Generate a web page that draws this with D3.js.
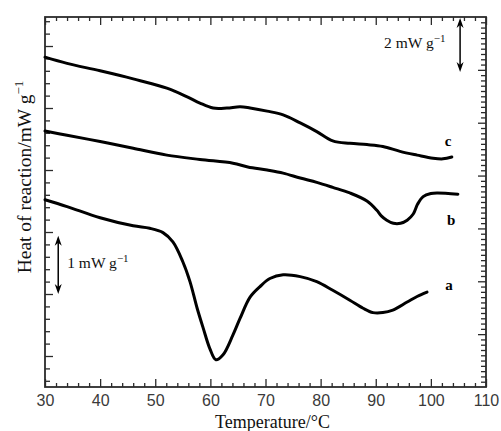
<!DOCTYPE html>
<html><head><meta charset="utf-8">
<script src="https://cdn.jsdelivr.net/npm/d3@7"></script>
<style>
body{margin:0;background:#fff;}
svg{display:block;}
</style></head>
<body>
<svg id="chart" width="501" height="431"></svg>
<script>
// Temperature (°C) and heat of reaction (arbitrary offset, mW/g units of the left axis)
const tempC = [30,34,40,46,52.1,55.8,58.1,60.5,63,65.4,67.2,70.3,73.2,76.3,79.3,82.2,85.3,88.4,91.3,94.4,97.5,100.4,102.2,103.8];
const heatC = [5.32,5.22,5.10,4.97,4.82,4.68,4.58,4.50,4.50,4.52,4.50,4.45,4.39,4.26,4.12,3.97,3.93,3.91,3.88,3.80,3.74,3.69,3.68,3.71];

const tempB = [30,34,40,46,52.1,58.1,64.1,66.8,70.3,73.2,76.3,79.3,82.2,85.3,88.4,90.2,91,92,93.2,94.5,95.7,96.8,97.6,98.6,100,101.1,104.9];
const heatB = [4.13,4.06,3.96,3.85,3.74,3.67,3.61,3.55,3.50,3.45,3.37,3.30,3.22,3.13,3.00,2.85,2.76,2.69,2.64,2.64,2.69,2.79,2.95,3.07,3.12,3.13,3.11];

const tempA = [30,34,40,46,49,51.4,53.2,55,56.3,57.6,58.7,59.9,61,62.3,64.1,65.4,67.2,69,70.8,73.2,76.3,79.3,82.2,85.3,87.7,89.5,91.3,93.1,95.7,97.5,99.3];
const heatA = [3.02,2.91,2.73,2.60,2.56,2.49,2.34,2.02,1.70,1.27,0.95,0.62,0.44,0.52,0.84,1.11,1.45,1.62,1.75,1.81,1.78,1.70,1.56,1.40,1.27,1.20,1.20,1.24,1.37,1.46,1.53];

const xMajorTicks = [30,40,50,60,70,80,90,100,110];
const curveLabels = ["a","b","c"];

const W = 501, H = 431;
const m = {left:45, right:15, top:17, bottom:44};
const x0 = m.left, x1 = W - m.right, y0 = m.top, y1 = H - m.bottom;

const svg = d3.select("#chart");
const x = d3.scaleLinear().domain([30,110]).range([x0,x1]);
const y = d3.scaleLinear().domain([0,5.968]).range([y1,y0]);
const yR = d3.scaleLinear().domain([0,7]).range([y1,y0]);

const axisColor = "#2b2b2b";
const xMinor = d3.range(32,110,2).filter(v => v%10!==0);

function styleAxis(g){
  g.select(".domain").remove();
  g.selectAll(".tick line").attr("stroke",axisColor).attr("stroke-width",1.3);
}

// bottom axis
svg.append("g").attr("transform",`translate(0,${y1})`)
  .call(d3.axisBottom(x).tickValues(xMinor).tickSizeInner(-4).tickSizeOuter(0).tickFormat(""))
  .call(styleAxis);
svg.append("g").attr("transform",`translate(0,${y1})`)
  .call(d3.axisBottom(x).tickValues(xMajorTicks).tickSizeInner(-8).tickSizeOuter(0).tickPadding(8).tickFormat(d3.format("d")))
  .call(styleAxis)
  .call(g=>g.selectAll("text").attr("font-family","Liberation Sans, Arial, sans-serif").attr("font-size",16).attr("fill","#3a3a3a"));
// top axis
svg.append("g").attr("transform",`translate(0,${y0})`)
  .call(d3.axisTop(x).tickValues(xMinor).tickSizeInner(-4).tickSizeOuter(0).tickFormat(""))
  .call(styleAxis);
svg.append("g").attr("transform",`translate(0,${y0})`)
  .call(d3.axisTop(x).tickValues(xMajorTicks).tickSizeInner(-8).tickSizeOuter(0).tickFormat(""))
  .call(styleAxis);
// left axis
const yMinor = d3.range(0.1,5.95,0.2).map(v=>+v.toFixed(2)).filter(v=>Math.abs((v-0.5)%1)>1e-6);
const yMajor = [0.5,1.5,2.5,3.5,4.5,5.5];
svg.append("g").attr("transform",`translate(${x0},0)`)
  .call(d3.axisLeft(y).tickValues(yMinor).tickSizeInner(-5).tickSizeOuter(0).tickFormat(""))
  .call(styleAxis);
svg.append("g").attr("transform",`translate(${x0},0)`)
  .call(d3.axisLeft(y).tickValues(yMajor).tickSizeInner(-8).tickSizeOuter(0).tickFormat(""))
  .call(styleAxis);
// right axis
const yRMinor = d3.range(0.1,7,0.1).map(v=>+v.toFixed(2)).filter(v=>Math.abs(v-Math.round(v))>1e-6);
const yRMajor = [1,2,3,4,5,6];
svg.append("g").attr("transform",`translate(${x1},0)`)
  .call(d3.axisRight(yR).tickValues(yRMinor).tickSizeInner(-5).tickSizeOuter(0).tickFormat(""))
  .call(styleAxis);
svg.append("g").attr("transform",`translate(${x1},0)`)
  .call(d3.axisRight(yR).tickValues(yRMajor).tickSizeInner(-8).tickSizeOuter(0).tickFormat(""))
  .call(styleAxis);

// frame
svg.append("rect").attr("x",x0).attr("y",y0).attr("width",x1-x0).attr("height",y1-y0)
  .attr("fill","none").attr("stroke",axisColor).attr("stroke-width",1.8);

// curves
const line = d3.line().x(d=>x(d[0])).y(d=>y(d[1])).curve(d3.curveCatmullRom.alpha(0.5));
const series = [
  {t:tempA,h:heatA},{t:tempB,h:heatB},{t:tempC,h:heatC}
];
series.forEach(s=>{
  svg.append("path").datum(s.t.map((t,i)=>[t,s.h[i]]))
    .attr("d",line).attr("fill","none").attr("stroke","#000")
    .attr("stroke-width",3).attr("stroke-linejoin","round").attr("stroke-linecap","round");
});

// curve labels
const labelPos = [[103.3,1.65],[103.7,2.70],[103.1,3.98]];
curveLabels.forEach((l,i)=>{
  svg.append("text").attr("x",x(labelPos[i][0])).attr("y",y(labelPos[i][1])).attr("dy","0.35em")
    .attr("text-anchor","middle").attr("font-family","Liberation Serif, Times New Roman, serif")
    .attr("font-weight","bold").attr("font-size",15).text(l);
});

// double arrows
function dblArrow(t, va, vb){
  const xa = x(t), ya = y(va), yb = y(vb);
  svg.append("line").attr("x1",xa).attr("x2",xa).attr("y1",ya+3).attr("y2",yb-3)
    .attr("stroke","#000").attr("stroke-width",1.5);
  svg.append("path").attr("d",`M${xa},${ya} L${xa-3.5},${ya+10} L${xa},${ya+7} L${xa+3.5},${ya+10} Z`).attr("fill","#000");
  svg.append("path").attr("d",`M${xa},${yb} L${xa-3.5},${yb-10} L${xa},${yb-7} L${xa+3.5},${yb-10} Z`).attr("fill","#000");
}
dblArrow(32.4, 2.44, 1.50);
dblArrow(105.3, 5.95, 5.08);

function unitLabel(px, py, num){
  const t = svg.append("text").attr("x",px).attr("y",py)
    .attr("font-family","Liberation Serif, Times New Roman, serif").attr("font-size",15.5).attr("fill","#111");
  t.append("tspan").text(num+" mW g");
  t.append("tspan").attr("dy",-6).attr("font-size",11).text("\u22121");
}
unitLabel(x(105.3)-76, y(5.46), "2");
unitLabel(x(32.4)+9, y(1.92), "1");

// axis titles
svg.append("text").attr("x",(x0+x1)/2+7).attr("y",428).attr("text-anchor","middle")
  .attr("font-family","Liberation Serif, Times New Roman, serif").attr("font-size",18).attr("fill","#111")
  .text("Temperature/\u00B0C");
const yt = svg.append("text").attr("transform",`translate(31,${(y0+y1)/2-25}) rotate(-90)`).attr("text-anchor","middle")
  .attr("font-family","Liberation Serif, Times New Roman, serif").attr("font-size",19.5).attr("fill","#111");
yt.append("tspan").text("Heat of reaction/mW g");
yt.append("tspan").attr("dy",-8).attr("font-size",13).text("\u22121");
</script>
</body></html>
